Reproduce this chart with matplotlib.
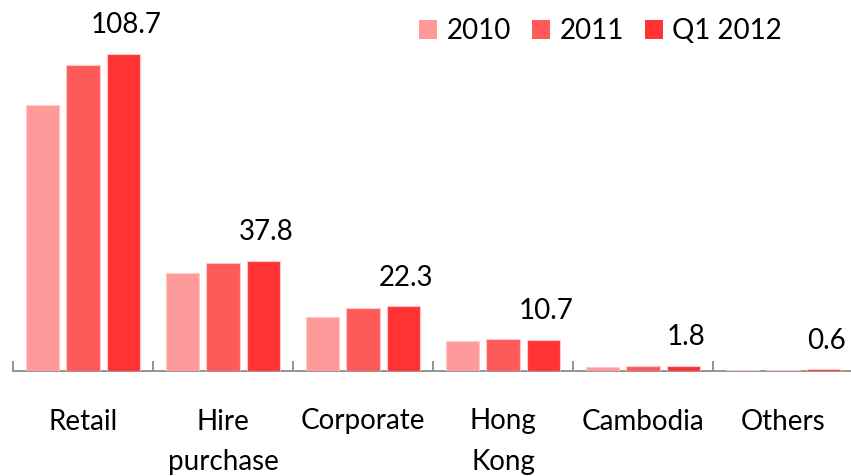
import matplotlib
matplotlib.use("Agg")
import matplotlib.pyplot as plt
import numpy as np
from matplotlib.patches import Patch

categories = ["Retail", "Hire\npurchase", "Corporate", "Hong\nKong", "Cambodia", "Others"]
series_names = ["2010", "2011", "Q1 2012"]
values_2010 = [91.2, 33.5, 18.4, 10.4, 1.4, 0.4]
values_2011 = [104.9, 36.9, 21.5, 11.1, 1.7, 0.5]
values_q1_2012 = [108.7, 37.8, 22.3, 10.7, 1.8, 0.6]
label_texts = ["108.7", "37.8", "22.3", "10.7", "1.8", "0.6"]

colors = ["#FF9A9A", "#FF5A5A", "#FF3333"]
edge = "#FFC8C8"

plt.rcParams["font.family"] = ["Lato", "DejaVu Sans"]
FS = 20

fig = plt.figure(figsize=(8.51, 4.76), dpi=100)
ax = fig.add_axes([13 / 851, 1 - 371 / 476, 840 / 851, 371 / 476])

x = np.arange(len(categories))
step = 0.29
width = 0.236
all_series = [values_2010, values_2011, values_q1_2012]
for i, (vals, col) in enumerate(zip(all_series, colors)):
    ax.bar(x + (i - 1) * step, vals, width, color=col, edgecolor=edge,
           linewidth=0.8, label=series_names[i], zorder=3)

for xi, v, t in zip(x, values_q1_2012, label_texts):
    ax.annotate(t, (xi + step, v), xytext=(2, 11), textcoords="offset points",
                ha="center", va="bottom", fontsize=FS, color="black")

ax.set_xlim(-0.5, 5.5)
ax.set_ylim(0, 371 / 2.92)

for s in ["top", "right", "left"]:
    ax.spines[s].set_visible(False)
ax.spines["bottom"].set_color("#8C8C8C")
ax.spines["bottom"].set_linewidth(1.3)
ax.spines["bottom"].set_zorder(2)
ax.set_yticks([])

ax.set_xticks(np.arange(-0.5, 6.0, 1.0))
ax.set_xticklabels([])
ax.tick_params(axis="x", direction="in", length=7, width=1.3, color="#8C8C8C")
ax.set_xticks(x, minor=True)
ax.set_xticklabels(categories, minor=True, fontsize=FS, va="top",
                   linespacing=1.7)
ax.tick_params(axis="x", which="minor", length=0, pad=27)

handles = [Patch(facecolor=c, edgecolor="none") for c in colors]
fig.legend(handles, series_names, loc="upper right", bbox_to_anchor=(0.942, 1.003),
           ncol=3, frameon=False, fontsize=FS, handlelength=0.65, handleheight=0.65,
           handletextpad=0.35, columnspacing=0.75, borderaxespad=0.3)

fig.savefig("out.png", dpi=100)
